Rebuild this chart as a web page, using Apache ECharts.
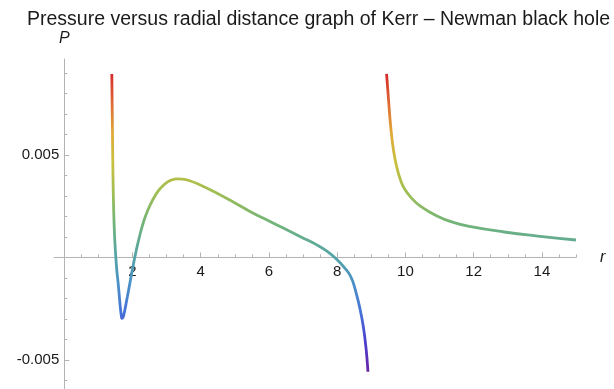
<!DOCTYPE html>
<html>
<head>
<meta charset="utf-8">
<script src="https://cdn.jsdelivr.net/npm/echarts@6/dist/echarts.min.js"></script>
<style>
html,body{margin:0;padding:0;background:#fff;}
#chart{width:614px;height:389px;}
</style>
</head>
<body>
<div id="chart"></div>
<script>
// Branch 1 (inner branch): radial distance r and pressure P
var branch1R = [1.395, 1.404, 1.413, 1.421, 1.430, 1.442, 1.460, 1.483, 1.512, 1.545, 1.580, 1.615, 1.645, 1.670, 1.695, 1.720, 1.750, 1.790, 1.850, 1.930, 2.010, 2.100, 2.200, 2.300, 2.402, 2.520, 2.667, 2.814, 3.010, 3.166, 3.313, 3.460, 3.700, 3.988, 4.479, 4.966, 5.457, 5.947, 6.435, 6.925, 7.416, 7.709, 8.003, 8.188, 8.394, 8.541, 8.688, 8.776, 8.835, 8.872, 8.902];
var branch1P = [0.00895, 0.0075, 0.0062, 0.0050, 0.0039, 0.0028, 0.0017, 0.0008, 0.0, -0.0007, -0.00125, -0.0019, -0.00245, -0.0028, -0.00297, -0.00293, -0.00277, -0.00245, -0.00192, -0.00120, -0.00048, 0.00026, 0.00098, 0.00160, 0.00210, 0.00256, 0.00302, 0.00336, 0.00366, 0.00379, 0.00383, 0.00382, 0.00373, 0.00353, 0.00313, 0.00269, 0.00223, 0.00182, 0.00142, 0.00101, 0.00060, 0.00029, -0.00012, -0.00045, -0.00093, -0.00164, -0.00266, -0.00349, -0.00427, -0.00490, -0.00558];
// Branch 2 (outer branch)
var branch2R = [9.448, 9.506, 9.565, 9.653, 9.765, 9.862, 9.959, 10.155, 10.449, 10.940, 11.427, 11.916, 12.896, 13.877, 15.0];
var branch2P = [0.00895, 0.00768, 0.00645, 0.00520, 0.00428, 0.00375, 0.00339, 0.00294, 0.00249, 0.00201, 0.00170, 0.00150, 0.00124, 0.00104, 0.00085];

// Tick values
var xMajorTicks = [2, 4, 6, 8, 10, 12, 14];
var xMinorTicks = [0.5, 1, 1.5, 2.5, 3, 3.5, 4.5, 5, 5.5, 6.5, 7, 7.5, 8.5, 9, 9.5, 10.5, 11, 11.5, 12.5, 13, 13.5, 14.5, 15];
var yMajorTicks = [-0.005, 0.005];
var yMinorTicks = [-0.006, -0.004, -0.003, -0.002, -0.001, 0.001, 0.002, 0.003, 0.004, 0.006, 0.007, 0.008, 0.009];

var titleText = 'Pressure versus radial distance graph of Kerr \u2013 Newman black hole';

function pairs(xs, ys) { return xs.map(function (x, i) { return [x, ys[i]]; }); }

var axisGray = '#b4b4b4';
var fontFam = '"Liberation Sans", Arial, sans-serif';
var X_MIN = -0.3, X_MAX = 15, Y_MIN = -0.00642, Y_MAX = 0.00968;
var GRID = {left: 54, right: 38, top: 59, bottom: 0};
var plotW = 614 - GRID.left - GRID.right, plotH = 389 - GRID.top - GRID.bottom;
// offsets that bring label-only axes onto the zero lines
var xLabelOffset = -(plotH * (0 - Y_MIN) / (Y_MAX - Y_MIN));
var yLabelOffset = -(plotW * (0 - X_MIN) / (X_MAX - X_MIN));

var chart = echarts.init(document.getElementById('chart'), null, {renderer: 'canvas'});
chart.setOption({
  animation: false,
  backgroundColor: '#ffffff',
  title: {
    text: titleText,
    left: 22,
    top: 5,
    textStyle: {fontFamily: fontFam, fontSize: 19.5, fontWeight: 'normal', color: '#1a1a1a'}
  },
  grid: {left: GRID.left, right: GRID.right, top: GRID.top, bottom: GRID.bottom, containLabel: false, outerBoundsMode: 'none'},
  xAxis: [{
    type: 'value', min: X_MIN, max: X_MAX, position: 'bottom',
    axisLine: {show: true, onZero: true, onZeroAxisIndex: 0, lineStyle: {color: axisGray, width: 1}},
    axisTick: {show: true, inside: true, length: 5, customValues: xMajorTicks, lineStyle: {color: axisGray}},
    axisLabel: {show: false},
    splitLine: {show: false},
    name: 'r', nameLocation: 'end', nameGap: 24,
    nameTextStyle: {fontFamily: fontFam, fontSize: 16, fontStyle: 'italic', color: '#1a1a1a', verticalAlign: 'middle'}
  }, {
    type: 'value', min: X_MIN, max: X_MAX, position: 'bottom',
    axisLine: {show: false, onZero: true, onZeroAxisIndex: 0},
    axisTick: {show: true, inside: true, length: 3, customValues: xMinorTicks, lineStyle: {color: axisGray}},
    axisLabel: {show: false},
    splitLine: {show: false}
  }, {
    type: 'value', min: X_MIN, max: X_MAX, position: 'bottom', offset: xLabelOffset,
    axisLine: {show: false, onZero: false},
    axisTick: {show: false},
    axisLabel: {show: true, customValues: xMajorTicks, margin: 7, fontFamily: fontFam, fontSize: 15, color: '#1a1a1a'},
    splitLine: {show: false}
  }],
  yAxis: [{
    type: 'value', min: Y_MIN, max: Y_MAX, position: 'left',
    axisLine: {show: true, onZero: true, onZeroAxisIndex: 0, lineStyle: {color: axisGray, width: 1}},
    axisTick: {show: true, inside: true, length: 5, customValues: yMajorTicks, lineStyle: {color: axisGray}},
    axisLabel: {show: false},
    splitLine: {show: false},
    name: 'P', nameLocation: 'end', nameGap: 12,
    nameTextStyle: {fontFamily: fontFam, fontSize: 16, fontStyle: 'italic', color: '#1a1a1a', align: 'center'}
  }, {
    type: 'value', min: Y_MIN, max: Y_MAX, position: 'left',
    axisLine: {show: false, onZero: true, onZeroAxisIndex: 0},
    axisTick: {show: true, inside: true, length: 3, customValues: yMinorTicks, lineStyle: {color: axisGray}},
    axisLabel: {show: false},
    splitLine: {show: false}
  }, {
    type: 'value', min: Y_MIN, max: Y_MAX, position: 'left', offset: yLabelOffset,
    axisLine: {show: false, onZero: false},
    axisTick: {show: false},
    axisLabel: {show: true, customValues: yMajorTicks, margin: 5, fontFamily: fontFam, fontSize: 15, color: '#1a1a1a',
      formatter: function (v) { return v.toFixed(3); }},
    splitLine: {show: false}
  }],
  visualMap: {
    show: false, type: 'continuous', dimension: 1, seriesIndex: [0, 1],
    min: -0.0056, max: 0.00896,
    inRange: {color: ['#6a23a3', '#4b3fcc', '#4673d8', '#4a91c6', '#57a6a2', '#72b478', '#9fbe54', '#c8c03e', '#e0a938', '#e06a35', '#d42b2b']}
  },
  series: [{
    type: 'line', xAxisIndex: 0, yAxisIndex: 0, data: pairs(branch1R, branch1P),
    showSymbol: false, smooth: 0.5, lineStyle: {width: 2.8}, clip: true
  }, {
    type: 'line', xAxisIndex: 0, yAxisIndex: 0, data: pairs(branch2R, branch2P),
    showSymbol: false, smooth: 0.5, lineStyle: {width: 2.8}, clip: true
  }]
});
</script>
</body>
</html>
